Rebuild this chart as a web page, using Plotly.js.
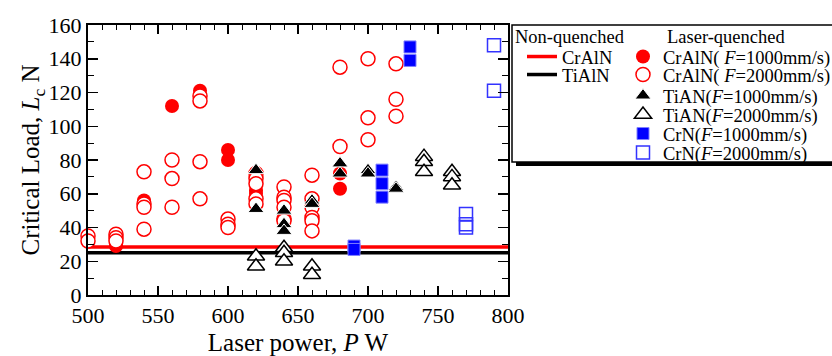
<!DOCTYPE html>
<html><head><meta charset="utf-8">
<script src="https://cdn.plot.ly/plotly-3.0.1.min.js"></script>
<style>html,body{margin:0;padding:0;background:#fff}</style>
</head><body><div id="chart" style="width:832px;height:356px"></div>
<script>
// Reference levels (non-quenched)
const refX = [500, 800];
const crAlNRef = [28.5, 28.5];
const tiAlNRef = [25, 25];

// CrAlN F=1000 (filled circles)
const crAlN1000X = [520, 520, 540, 540, 560, 580, 600, 600, 620, 620, 640, 640, 660, 680, 680];
const crAlN1000Y = [30, 29, 56, 55, 112, 121, 86, 80, 62, 60, 57, 55, 56, 72, 63];
// CrAlN F=2000 (open circles)
const crAlN2000X = [500, 500, 520, 520, 520, 540, 540, 540, 540, 560, 560, 560, 580, 580, 580, 580, 600, 600, 600,
  620, 620, 620, 620, 620, 640, 640, 640, 640, 640, 640, 660, 660, 660, 660, 660, 660, 680, 680, 700, 700, 700, 720, 720, 720];
const crAlN2000Y = [35, 32, 36, 34, 32, 73, 54, 52, 39, 80, 69, 52, 118, 115, 79, 57, 45, 42, 40,
  72, 69, 66, 57, 54, 64, 58, 56, 52, 45, 44, 71, 57, 52, 46, 44, 38, 135, 88, 140, 105, 92, 137, 116, 106];
// TiAlN F=1000 (filled triangles)
const tiAlN1000X = [620, 620, 640, 640, 640, 660, 660, 680, 680, 700, 700, 720, 720];
const tiAlN1000Y = [74, 51, 50, 42, 38, 56, 54, 78, 72, 74, 72, 64, 63];
// TiAlN F=2000 (open triangles)
const tiAlN2000X = [620, 620, 640, 640, 640, 660, 660, 740, 740, 740, 760, 760, 760];
const tiAlN2000Y = [23, 17, 28, 25, 20, 17, 12, 82, 79, 73, 73, 70, 65];
// CrN F=1000 (filled squares)
const crN1000X = [690, 690, 710, 710, 710, 730, 730];
const crN1000Y = [29, 27, 74, 66, 58, 147, 139];
// CrN F=2000 (open squares)
const crN2000X = [770, 770, 770, 790, 790];
const crN2000Y = [48, 42, 40, 148, 121];

const legendNames = ['CrAlN', 'TiAlN',
  'CrAlN( <i>F</i>=1000mm/s)', 'CrAlN( <i>F</i>=2000mm/s)',
  'TiAN(<i>F</i>=1000mm/s)', 'TiAN(<i>F</i>=2000mm/s)',
  'CrN(<i>F</i>=1000mm/s)', 'CrN(<i>F</i>=2000mm/s)'];

const FONT = 'Liberation Serif, Times New Roman, serif';
const LFS = 18.5;

const traces = [
  {x: refX, y: crAlNRef, mode: 'lines', line: {color: '#ff0000', width: 3.5}, name: legendNames[0], legend: 'legend'},
  {x: refX, y: tiAlNRef, mode: 'lines', line: {color: '#000000', width: 3.5}, name: legendNames[1], legend: 'legend2'},
  {x: crAlN1000X, y: crAlN1000Y, mode: 'markers', name: legendNames[2], legend: 'legend3',
    marker: {symbol: 'circle', size: 14, color: '#ff0000', line: {color: '#ff0000', width: 0}}},
  {x: crAlN2000X, y: crAlN2000Y, mode: 'markers', name: legendNames[3], legend: 'legend4',
    marker: {symbol: 'circle', size: 14, color: '#ffffff', line: {color: '#ff0000', width: 1.5}}},
  {x: tiAlN1000X, y: tiAlN1000Y, mode: 'markers', name: legendNames[4], legend: 'legend5',
    marker: {symbol: 'triangle-up', size: 14, color: '#000000', line: {color: '#ffffff', width: 1}}},
  {x: tiAlN2000X, y: tiAlN2000Y, mode: 'markers', name: legendNames[5], legend: 'legend6',
    marker: {symbol: 'triangle-up', size: 15, color: '#ffffff', line: {color: '#000000', width: 1.5}}},
  {x: crN1000X, y: crN1000Y, mode: 'markers', name: legendNames[6], legend: 'legend7',
    marker: {symbol: 'square', size: 12, color: '#0000ff', line: {color: '#8080ff', width: 1}}},
  {x: crN2000X, y: crN2000Y, mode: 'markers', name: legendNames[7], legend: 'legend8',
    marker: {symbol: 'square', size: 13, color: 'rgba(255,255,255,0)', line: {color: '#3333ff', width: 1.5}}}
];
traces.forEach(t => { t.cliponaxis = false; t.showlegend = true; });

function lg(xp, yp) {
  return {x: xp, y: yp, xanchor: 'left', yanchor: 'middle', bgcolor: 'rgba(0,0,0,0)', borderwidth: 0,
    font: {family: FONT, size: LFS, color: '#000'}};
}
const pxX = p => (p - 88) / 420;
const pxY = p => (295 - p) / 270;
const lineLegX = pxX(522), markLegX = pxX(623);

const layout = {
  width: 832, height: 356,
  margin: {l: 88, r: 324, t: 25, b: 61, autoexpand: false},
  paper_bgcolor: '#fff', plot_bgcolor: '#fff',
  font: {family: FONT, color: '#000'},
  xaxis: {range: [500, 800], tick0: 500, dtick: 50, ticks: 'inside', ticklen: 9, tickwidth: 1.5, tickcolor: '#000',
    mirror: 'allticks', showline: true, linewidth: 2, linecolor: '#000', showgrid: false, zeroline: false,
    minor: {dtick: 10, ticks: 'inside', ticklen: 5, tickwidth: 1, tickcolor: '#000', showgrid: false},
    tickfont: {family: FONT, size: 22, color: '#000'},
    title: {text: 'Laser power, <i>P</i> W', font: {family: FONT, size: 25, color: '#000'}, standoff: 12}},
  yaxis: {range: [0, 160], tick0: 0, dtick: 20, ticks: 'inside', ticklen: 10, tickwidth: 1.5, tickcolor: '#000',
    mirror: 'allticks', showline: true, linewidth: 2, linecolor: '#000', showgrid: false, zeroline: false,
    minor: {dtick: 10, ticks: 'inside', ticklen: 6, tickwidth: 1, tickcolor: '#000', showgrid: false},
    tickfont: {family: FONT, size: 22, color: '#000'},
    title: {text: 'Critical Load, <i>L</i><sub>c</sub> N', font: {family: FONT, size: 25, color: '#000'}, standoff: 1}},
  legend: lg(lineLegX, pxY(57)),
  legend2: lg(lineLegX, pxY(75)),
  legend3: lg(markLegX, pxY(57)),
  legend4: lg(markLegX, pxY(75)),
  legend5: lg(markLegX, pxY(96)),
  legend6: lg(markLegX, pxY(115)),
  legend7: lg(markLegX, pxY(134)),
  legend8: lg(markLegX, pxY(153)),
  shapes: [
    {type: 'rect', xref: 'paper', yref: 'paper', x0: pxX(516), x1: pxX(845), y0: pxY(166), y1: pxY(162),
      fillcolor: '#000', line: {width: 0}},
    {type: 'rect', xref: 'paper', yref: 'paper', x0: pxX(512), x1: pxX(845), y0: pxY(162), y1: pxY(25),
      fillcolor: 'rgba(0,0,0,0)', line: {color: '#000', width: 1.5}}
  ],
  annotations: [
    {text: 'Non-quenched', xref: 'paper', yref: 'paper', x: pxX(513), y: pxY(37), xanchor: 'left', yanchor: 'middle',
      showarrow: false, font: {family: FONT, size: LFS, color: '#000'}},
    {text: 'Laser-quenched', xref: 'paper', yref: 'paper', x: pxX(665), y: pxY(37), xanchor: 'left', yanchor: 'middle',
      showarrow: false, font: {family: FONT, size: LFS, color: '#000'}}
  ]
};

Plotly.newPlot('chart', traces, layout, {displayModeBar: false, staticPlot: true});
</script></body></html>
